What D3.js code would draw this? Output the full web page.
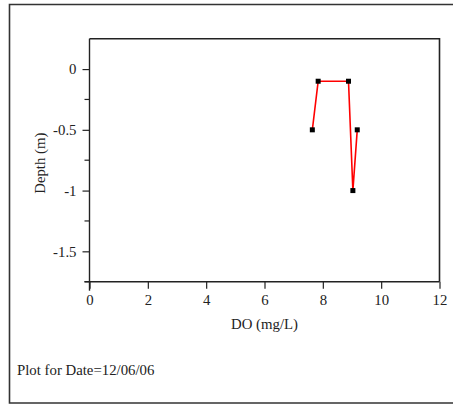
<!DOCTYPE html>
<html><head><meta charset="utf-8">
<script src="https://cdn.jsdelivr.net/npm/d3@7"></script>
<style>
html,body{margin:0;padding:0;background:#fff;}
text{font-family:"Liberation Serif","Times New Roman",serif;fill:#222;}
</style></head>
<body>
<svg id="c" width="453" height="414"></svg>
<script>
const doValues = [7.64, 7.84, 8.88, 9.03, 9.18];
const depthValues = [-0.5, -0.1, -0.1, -1.0, -0.5];
const xTicks = [0, 2, 4, 6, 8, 10, 12];
const yMajorTicks = [0, -0.5, -1, -1.5];
const yMinorTicks = [-0.25, -0.75, -1.25, -1.75];
const xLabel = "DO (mg/L)";
const yLabel = "Depth (m)";
const footnote = "Plot for Date=12/06/06";

const svg = d3.select("#c");
const FS = 14.8;
const L = 89.5, R = 439.5, T = 38.7, B = 281.7;
const x = d3.scaleLinear().domain([0, 12]).range([L, R]);
const y = d3.scaleLinear().domain([-1.75, 0.25]).range([B, T]);

// outer frame
svg.append("path").attr("d", `M460,4.5 H9.5 V403 H460`).attr("fill","none").attr("stroke","#333").attr("stroke-width",1.6);

// plot frame top/right
svg.append("path").attr("d", `M${L},${T} H${R} V${B}`).attr("fill","none").attr("stroke","#222").attr("stroke-width",1.6);

// x axis
const xa = svg.append("g").attr("transform", `translate(0,${B})`)
  .call(d3.axisBottom(x).tickValues(xTicks).tickSize(7).tickSizeOuter(0).tickFormat(d3.format("d")));
xa.select(".domain").attr("stroke","#222").attr("stroke-width",1.4).attr("d", `M${L-5},0 H${R}`);
xa.selectAll(".tick line").attr("stroke","#222").attr("stroke-width",1.2);
xa.selectAll(".tick text").attr("font-family","Liberation Serif").attr("font-size",FS).attr("fill","#222").attr("dy","0.9em");

// y axis
const ya = svg.append("g").attr("transform", `translate(${L},0)`)
  .call(d3.axisLeft(y).tickValues(yMajorTicks).tickSize(7).tickSizeOuter(0).tickFormat(d => d === 0 ? "0" : String(d)));
ya.select(".domain").attr("stroke","#222").attr("stroke-width",1.4).attr("d", `M0,${T} V${B+9}`);
ya.selectAll(".tick line").attr("stroke","#222").attr("stroke-width",1.2);
ya.selectAll(".tick text").attr("font-family","Liberation Serif").attr("font-size",FS).attr("fill","#222").attr("x",-13);
ya.selectAll(".minor").data(yMinorTicks).enter().append("line").attr("class","minor")
  .attr("x1",-5).attr("x2",0).attr("y1",d=>y(d)).attr("y2",d=>y(d)).attr("stroke","#222").attr("stroke-width",1.2);

// axis labels
svg.append("text").attr("x", (L+R)/2).attr("y", 329).attr("text-anchor","middle").attr("font-size",FS).text(xLabel);
svg.append("text").attr("transform", `translate(45,${(T+B)/2 + 3}) rotate(-90)`).attr("text-anchor","middle").attr("font-size",FS).text(yLabel);

// data line
const pts = doValues.map((v,i)=>[v, depthValues[i]]);
svg.append("path").datum(pts)
  .attr("d", d3.line().x(d=>x(d[0])).y(d=>y(d[1])))
  .attr("fill","none").attr("stroke","#ff0000").attr("stroke-width",1.6);
svg.selectAll(".pt").data(pts).enter().append("rect").attr("class","pt")
  .attr("x", d=>x(d[0])-2.5).attr("y", d=>y(d[1])-2.5).attr("width",5).attr("height",5).attr("fill","#000");

// footnote
svg.append("text").attr("x", 17).attr("y", 375).attr("font-size",FS).text(footnote);
</script>
</body></html>
